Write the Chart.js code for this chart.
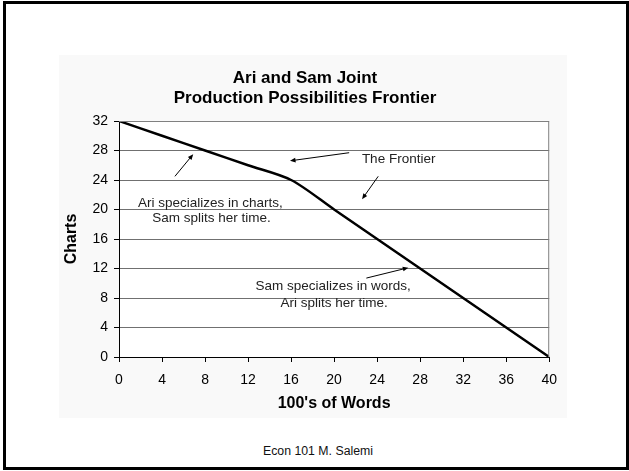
<!DOCTYPE html>
<html>
<head>
<meta charset="utf-8">
<script src="https://cdn.jsdelivr.net/npm/chart.js@4.4.1/dist/chart.umd.min.js"></script>
<style>
  body { margin: 0; background: #fff; font-family: "Liberation Sans", Arial, sans-serif; }
  .slide { position: absolute; left: 3px; top: 1px; width: 620px; height: 463px; border: 3px solid #000; }
  .chartbox { position: absolute; left: 59px; top: 55px; width: 508px; height: 363px; background: #f9f9f9; }
  .footer { position: absolute; left: 0; width: 636px; top: 444px; text-align: center; font-size: 12.3px; color: #111; }
</style>
</head>
<body>
<div class="slide"></div>
<div class="chartbox"><canvas id="ppf" width="508" height="363"></canvas></div>
<div class="footer">Econ 101 M. Salemi</div>
<script>
// frontier points: hundreds of words vs charts
const words  = [0, 4, 8, 12, 16, 20, 24, 28, 32, 36, 40];
const charts = [32, 30, 28, 26, 24, 20, 16, 12, 8, 4, 0];

const xTicks = [0, 4, 8, 12, 16, 20, 24, 28, 32, 36, 40];
const yTicks = [0, 4, 8, 12, 16, 20, 24, 28, 32];

// annotation text, anchored in data units (centre of each line)
const noteLines = [
    ['Ari specializes in charts,', 8.5, 20.9],
    ['Sam splits her time.', 8.6, 18.8],
    ['The Frontier', 26.0, 26.8],
    ['Sam specializes in words,', 19.9, 9.6],
    ['Ari splits her time.', 20.0, 7.3]
];
// arrows: [fromX, fromY, toX, toY], head at the "to" end
const arrows = [
    [5.2, 24.5, 6.9, 27.5],
    [21.4, 27.7, 15.9, 26.6],
    [24.1, 24.5, 22.6, 21.4],
    [23.0, 10.7, 26.9, 12.1]
];

const FONT = '"Liberation Sans", Arial, sans-serif';

const plotFrame = {
    id: 'plotFrame',
    beforeDraw(chart) {
        const {ctx, chartArea: a} = chart;
        ctx.save();
        ctx.fillStyle = '#fff';
        ctx.fillRect(a.left, a.top, a.right - a.left, a.bottom - a.top);
        ctx.restore();
    },
    afterDatasetsDraw(chart) {
        const {ctx, chartArea: a} = chart;
        ctx.save();
        ctx.strokeStyle = '#808080';
        ctx.lineWidth = 1;
        ctx.beginPath();
        ctx.moveTo(a.left, a.top + 0.5);
        ctx.lineTo(a.right - 0.5, a.top + 0.5);
        ctx.lineTo(a.right - 0.5, a.bottom);
        ctx.stroke();
        ctx.restore();
    },
    afterDraw(chart) {
        const {ctx} = chart;
        const sx = chart.scales.x, sy = chart.scales.y;
        ctx.save();
        ctx.font = '13.5px ' + FONT;
        ctx.fillStyle = '#222';
        ctx.textAlign = 'center';
        ctx.textBaseline = 'middle';
        noteLines.forEach(([t, x, y]) => {
            ctx.fillText(t, sx.getPixelForValue(x), sy.getPixelForValue(y));
        });
        ctx.strokeStyle = '#000';
        ctx.fillStyle = '#000';
        ctx.lineWidth = 1;
        arrows.forEach(([x1, y1, x2, y2]) => {
            const px1 = sx.getPixelForValue(x1), py1 = sy.getPixelForValue(y1);
            const px2 = sx.getPixelForValue(x2), py2 = sy.getPixelForValue(y2);
            const ang = Math.atan2(py2 - py1, px2 - px1);
            ctx.beginPath();
            ctx.moveTo(px1, py1);
            ctx.lineTo(px2 - 4 * Math.cos(ang), py2 - 4 * Math.sin(ang));
            ctx.stroke();
            ctx.beginPath();
            ctx.moveTo(px2, py2);
            ctx.lineTo(px2 - 6 * Math.cos(ang - 0.4), py2 - 6 * Math.sin(ang - 0.4));
            ctx.lineTo(px2 - 6 * Math.cos(ang + 0.4), py2 - 6 * Math.sin(ang + 0.4));
            ctx.closePath();
            ctx.fill();
        });
        ctx.restore();
    }
};

new Chart(document.getElementById('ppf'), {
    type: 'line',
    data: {
        datasets: [{
            data: words.map((w, i) => ({x: w, y: charts[i]})),
            borderColor: '#000',
            borderWidth: 2.5,
            pointRadius: 0,
            tension: 0.3,
            fill: false
        }]
    },
    options: {
        responsive: false,
        animation: false,
        devicePixelRatio: 1,
        layout: { padding: { left: 0, right: 16, top: 0, bottom: 0 } },
        plugins: {
            legend: { display: false },
            tooltip: { enabled: false },
            title: {
                display: true,
                text: ['Ari and Sam Joint', 'Production Possibilities Frontier'],
                color: '#000',
                font: { family: FONT, size: 17, weight: 'bold', lineHeight: '20px' },
                padding: { top: 13, bottom: 13 }
            }
        },
        scales: {
            x: {
                type: 'linear',
                min: 0, max: 40,
                afterBuildTicks: s => { s.ticks = xTicks.map(v => ({value: v})); },
                afterFit: s => { s.height = 61; },
                grid: { drawOnChartArea: false, drawTicks: true, tickLength: 5, color: '#000' },
                border: { color: '#000', width: 1 },
                ticks: { color: '#000', padding: 10, maxRotation: 0, font: { family: FONT, size: 14 } },
                title: {
                    display: true, text: "100's of Words", color: '#000',
                    font: { family: FONT, size: 16, weight: 'bold' },
                    padding: { top: 0, bottom: 5 }
                }
            },
            y: {
                min: 0, max: 32,
                afterBuildTicks: s => { s.ticks = yTicks.map(v => ({value: v})); },
                afterFit: s => { s.width = 60; },
                grid: { color: '#707070', tickColor: '#000', tickLength: 5, drawTicks: true },
                border: { color: '#000', width: 1 },
                ticks: { color: '#000', padding: 6, font: { family: FONT, size: 14 } },
                title: {
                    display: true, text: 'Charts', color: '#000',
                    font: { family: FONT, size: 16, weight: 'bold' },
                    padding: { top: 3, bottom: 0 }
                }
            }
        }
    },
    plugins: [plotFrame]
});
</script>
</body>
</html>
